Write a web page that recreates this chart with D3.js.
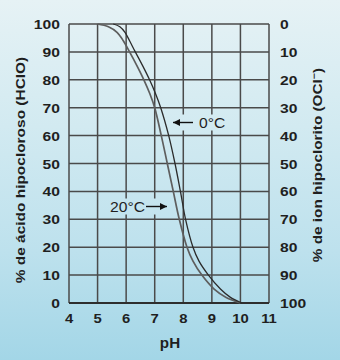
<!DOCTYPE html>
<html>
<head>
<meta charset="utf-8">
<script src="https://cdn.jsdelivr.net/npm/d3@7"></script>
<style>
html,body{margin:0;padding:0;background:#cfe9f1;}
svg{display:block;}
text{font-family:"Liberation Sans",Arial,sans-serif;}
</style>
</head>
<body>
<svg id="chart" width="340" height="360"></svg>
<script>
// ---- data ----
const phTicks = [4, 5, 6, 7, 8, 9, 10, 11];
const hcloTicks = [0, 10, 20, 30, 40, 50, 60, 70, 80, 90, 100];
const oclTickLabels = ["100", "90", "80", "70", "60", "50", "40", "30", "20", "10", "0"];
const curve20pH  = [5.0, 5.38, 5.68, 5.9, 6.12, 6.38, 6.62, 6.83, 7.0, 7.23, 7.44, 7.65, 7.86, 8.13, 8.34, 8.65, 9.08, 9.5, 10.0];
const curve20Val = [100, 99, 97, 94, 90, 85, 80, 75, 70, 60, 50, 40, 30, 20, 15, 10, 5, 2, 0];
const curve0pH   = [5.55, 5.78, 5.96, 6.12, 6.32, 6.58, 6.82, 7.03, 7.21, 7.49, 7.71, 7.9, 8.08, 8.34, 8.55, 8.88, 9.3, 9.65, 10.05];
const curve0Val  = [100, 99, 97, 94, 90, 85, 80, 75, 70, 60, 50, 40, 30, 20, 15, 10, 5, 2, 0];
const labels = ["0°C", "20°C"];
const xTitle = "pH";
const yTitleLeft = "% de ácido hipocloroso (HClO)";
const yTitleRight = "% de ion hipoclorito (OCl";

// ---- layout ----
const svg = d3.select("#chart");
const W = 340, H = 360;
const L = 69, R = 269, T = 24, B = 303;
const ink = "#1f1f1f";

const defs = svg.append("defs");
const grad = defs.append("linearGradient").attr("id", "bg")
  .attr("gradientUnits", "userSpaceOnUse").attr("x1", 0).attr("y1", 0).attr("x2", 0).attr("y2", H);
grad.append("stop").attr("offset", "0").attr("stop-color", "#e6f2f5");
grad.append("stop").attr("offset", "0.35").attr("stop-color", "#d2eaf1");
grad.append("stop").attr("offset", "0.7").attr("stop-color", "#bde1ed");
grad.append("stop").attr("offset", "1").attr("stop-color", "#a3d6e7");

svg.append("rect").attr("width", W).attr("height", H).attr("fill", "url(#bg)");

const x = d3.scaleLinear().domain([4, 11]).range([L, R]);
const y = d3.scaleLinear().domain([0, 100]).range([B, T]);

const gridColor = "#4a4a4a";
const g = svg.append("g");
g.selectAll("line.v").data(phTicks).enter().append("line")
  .attr("x1", d => x(d)).attr("x2", d => x(d)).attr("y1", T).attr("y2", B)
  .attr("stroke", gridColor).attr("stroke-width", 1.5);
g.selectAll("line.h").data(hcloTicks).enter().append("line")
  .attr("x1", L).attr("x2", R).attr("y1", d => y(d)).attr("y2", d => y(d))
  .attr("stroke", gridColor).attr("stroke-width", 1.5);
g.append("line").attr("x1", L).attr("x2", R).attr("y1", B).attr("y2", B)
  .attr("stroke", "#2e2e2e").attr("stroke-width", 1.9);

// curves
const line = d3.line().x(d => x(d[0])).y(d => y(d[1])).curve(d3.curveCatmullRom.alpha(0.5));
const c20 = curve20pH.map((p, i) => [p, curve20Val[i]]);
const c0 = curve0pH.map((p, i) => [p, curve0Val[i]]);
svg.append("path").attr("d", line(c20)).attr("fill", "none")
  .attr("stroke", "#5e5e5e").attr("stroke-width", 1.7);
svg.append("path").attr("d", line(c0)).attr("fill", "none")
  .attr("stroke", "#2b2b2b").attr("stroke-width", 1.3);

// helper for horizontally stretched text
function stext(px, py, txt, size, weight, anchor, sx) {
  return svg.append("text")
    .attr("transform", `translate(${px},${py}) scale(${sx},1)`)
    .attr("text-anchor", anchor).attr("font-size", size).attr("font-weight", weight)
    .attr("fill", ink).text(txt);
}

// annotations with background boxes
function annot(tx, ty, text, arrowFrom, arrowTo, boxX, boxW) {
  svg.append("rect").attr("x", boxX).attr("y", ty - 8).attr("width", boxW).attr("height", 16)
    .attr("fill", "url(#bg)");
  stext(tx, ty + 5, text, 14, "normal", "start", 1.12);
  svg.append("line").attr("x1", arrowFrom).attr("x2", arrowTo).attr("y1", ty).attr("y2", ty)
    .attr("stroke", "#111").attr("stroke-width", 1.4);
  const dir = arrowTo > arrowFrom ? 1 : -1;
  svg.append("path")
    .attr("d", `M${arrowTo},${ty} L${arrowTo - dir * 7},${ty - 3.5} L${arrowTo - dir * 7},${ty + 3.5} Z`)
    .attr("fill", "#111");
}
annot(199, 122.5, labels[0], 193, 173, 172, 58);
annot(110, 206.5, labels[1], 146, 167, 108, 60);

// tick labels
hcloTicks.forEach((d, i) => {
  stext(60, y(d) + 5, d, 13.5, "bold", "end", 1.16);
  stext(280, y(d) + 5, oclTickLabels[i], 13.5, "bold", "start", 1.16);
});
phTicks.forEach(d => stext(x(d), 323, d, 13.5, "bold", "middle", 1.1));

// titles
stext(170, 348, xTitle, 14.5, "bold", "middle", 1.05);
svg.append("text").attr("transform", `translate(25,170) rotate(-90) scale(1.19,1)`)
  .attr("text-anchor", "middle").attr("font-size", 13).attr("font-weight", "bold")
  .attr("fill", ink).text(yTitleLeft);
const tr = svg.append("text").attr("transform", `translate(322,165) rotate(-90) scale(1.18,1)`)
  .attr("text-anchor", "middle").attr("font-size", 13).attr("font-weight", "bold")
  .attr("fill", ink);
tr.append("tspan").text(yTitleRight);
tr.append("tspan").attr("font-size", 9).attr("dy", -5).text("−");
tr.append("tspan").attr("dy", 5).text(")");
</script>
</body>
</html>
